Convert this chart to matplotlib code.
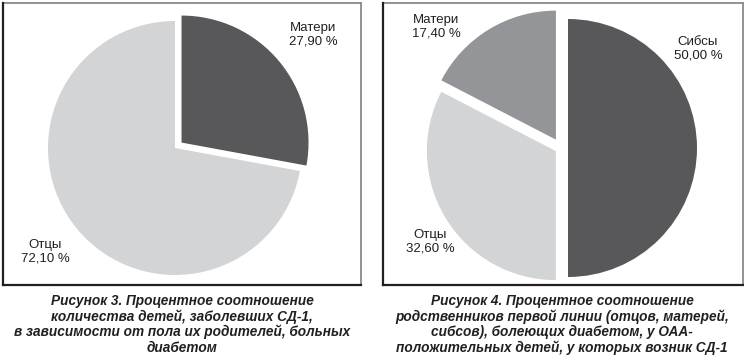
import matplotlib
matplotlib.use("Agg")
import matplotlib.pyplot as plt
from matplotlib.lines import Line2D

# ---- data ----
left_labels = ["Матери", "Отцы"]
left_values = [27.9, 72.1]
left_texts = ["27,90 %", "72,10 %"]

right_labels = ["Сибсы", "Отцы", "Матери"]
right_values = [50.0, 32.6, 17.4]
right_texts = ["50,00 %", "32,60 %", "17,40 %"]

caption_left = ("Рисунок 3. Процентное соотношение\n"
                "количества детей, заболевших СД-1,\n"
                "в зависимости от пола их родителей, больных\n"
                "диабетом")
caption_right = ("Рисунок 4. Процентное соотношение\n"
                 "родственников первой линии (отцов, матерей,\n"
                 "сибсов), болеющих диабетом, у ОАА-\n"
                 "положительных детей, у которых возник СД-1")

DARK = "#58585a"
LIGHT = "#d3d4d6"
MID = "#939598"

W, H = 744, 358
fig = plt.figure(figsize=(W / 100, H / 100), dpi=100)
ax = fig.add_axes([0, 0, 1, 1])

def Y(py):
    return H - py

# left pie
ax.pie(left_values, colors=[DARK, LIGHT], startangle=90, counterclock=False,
       explode=[8.5, 0], center=(175, Y(148)), radius=127,
       wedgeprops=dict(linewidth=0))
# right pie
ax.pie(right_values, colors=[DARK, LIGHT, MID], startangle=90, counterclock=False,
       explode=[7, 6, 9.8], center=(561, Y(148)), radius=129,
       wedgeprops=dict(linewidth=0))

ax.set_xlim(0, W)
ax.set_ylim(0, H)
ax.set_aspect("auto")
ax.axis("off")

lab_font = dict(family=["Liberation Sans", "DejaVu Sans"], fontsize=9.5,
                color="#231f20", ha="center", va="center", linespacing=1.2)
# left labels
ax.text(313, Y(35), f"{left_labels[0]}\n{left_texts[0]}", **lab_font)
ax.text(45, Y(252), f"{left_labels[1]}\n{left_texts[1]}", **lab_font)
# right labels
ax.text(698, Y(49), f"{right_labels[0]}\n{right_texts[0]}", **lab_font)
ax.text(430, Y(242), f"{right_labels[1]}\n{right_texts[1]}", **lab_font)
ax.text(436, Y(27), f"{right_labels[2]}\n{right_texts[2]}", **lab_font)

# panel frames (dark left/bottom, gray top/right)
def frame(x0, y0, x1, y1):
    ax.add_line(Line2D([x0, x1], [Y(y0), Y(y0)], color="#8a8a8a", lw=1.3))
    ax.add_line(Line2D([x1, x1], [Y(y0), Y(y1)], color="#8a8a8a", lw=1.3))
    ax.add_line(Line2D([x0, x0], [Y(y0), Y(y1)], color="#231f20", lw=1.6))
    ax.add_line(Line2D([x0, x1], [Y(y1), Y(y1)], color="#231f20", lw=1.6))

frame(2.5, 2.5, 361, 285)
frame(382.5, 2.5, 742.5, 285)

cap_font = dict(family=["Liberation Sans", "DejaVu Sans"], fontsize=9.8,
                weight="bold", style="italic", color="#231f20",
                ha="center", va="top", linespacing=1.1)
ax.text(182, Y(294), caption_left, **cap_font)
ax.text(562, Y(294), caption_right, **cap_font)

fig.savefig("out.png", dpi=100)
